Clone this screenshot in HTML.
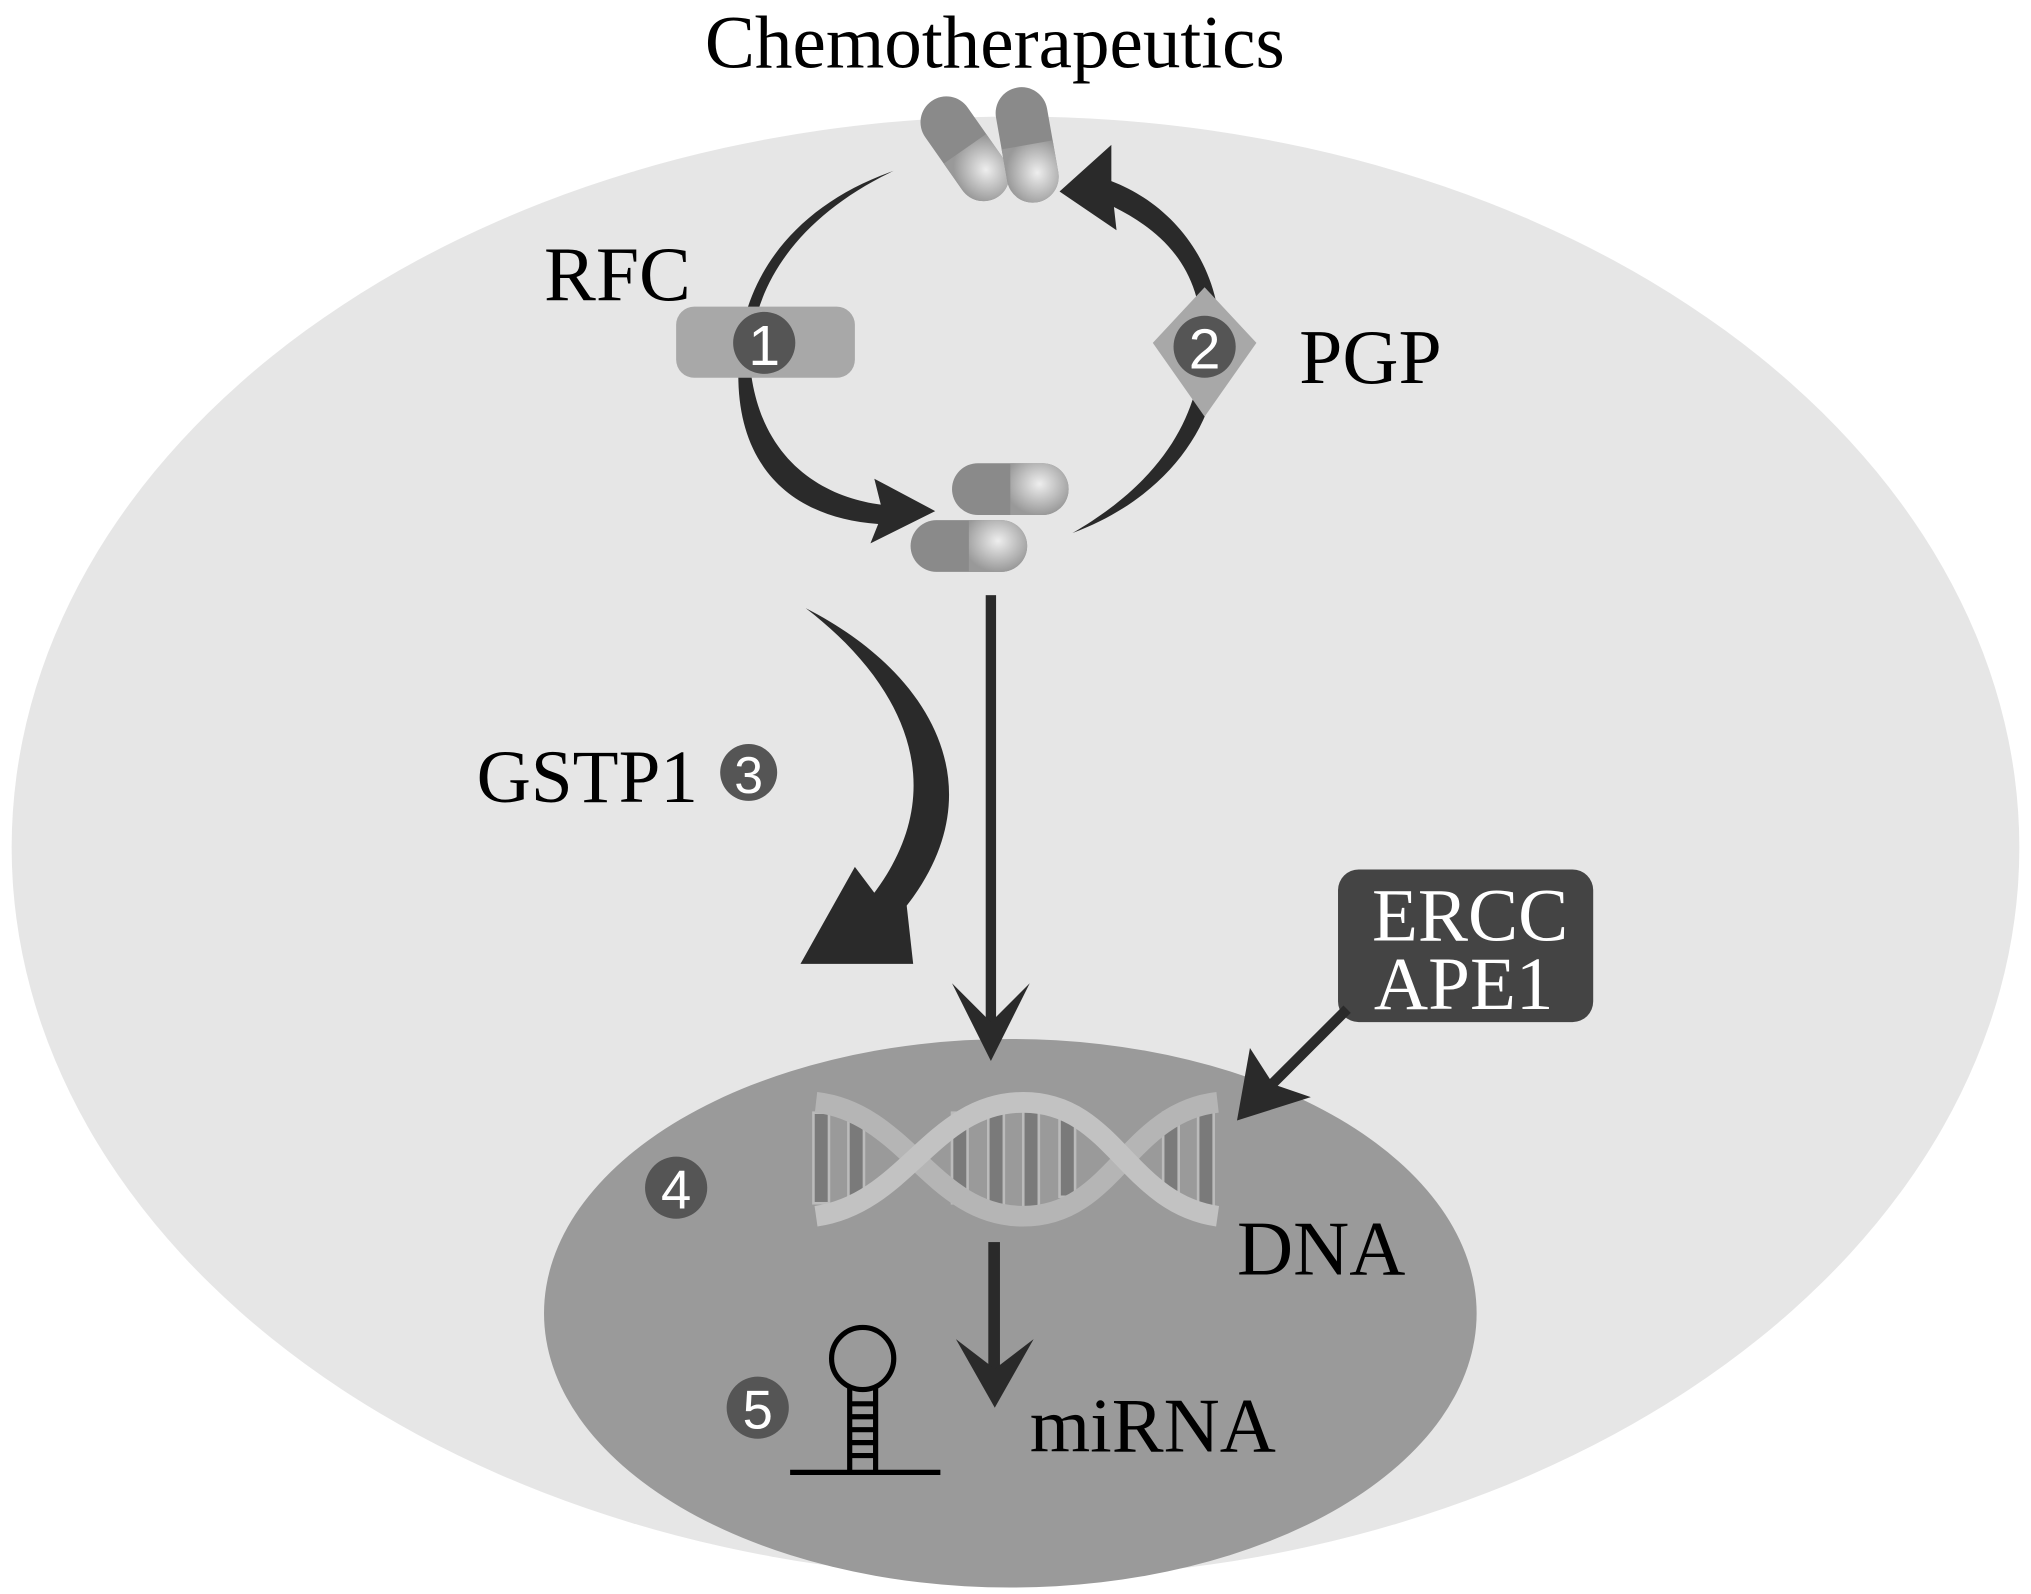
<!DOCTYPE html>
<html><head><meta charset="utf-8"><style>
html,body{margin:0;padding:0;background:#fff;width:2031px;height:1594px;overflow:hidden}
svg{display:block}
text{font-family:"Liberation Serif",serif}
.n{font-family:"Liberation Sans",sans-serif;fill:#fff;text-anchor:middle}
</style></head><body>
<svg width="2031" height="1594" viewBox="0 0 1568 1232" preserveAspectRatio="none" xmlns="http://www.w3.org/2000/svg">
<defs>
<radialGradient id="pl" cx="0.5" cy="0.4" r="0.6"><stop offset="0" stop-color="#eee"/><stop offset="1" stop-color="#999"/></radialGradient>
<g id="pill">
<rect x="-45" y="-20" width="90" height="40" rx="20" fill="#8a8a8a"/>
<path d="M0,-20 H25 A20,20 0 0 1 25,20 H0 Z" fill="url(#pl)"/>
</g>
</defs>
<rect width="1568" height="1232" fill="#fff"/>
<ellipse cx="784" cy="655" rx="775" ry="565" fill="#e6e6e6"/>
<ellipse cx="780" cy="1015" rx="360" ry="212" fill="#9a9a9a"/>
<text x="768" y="52" font-size="58" text-anchor="middle">Chemotherapeutics</text>

<!-- pills -->
<use href="#pill" transform="translate(745,115) rotate(55)"/>
<use href="#pill" transform="translate(793,112) rotate(80)"/>
<use href="#pill" transform="translate(780,378) rotate(0)"/>
<use href="#pill" transform="translate(748,422) rotate(0)"/>

<!-- left loop arrow -->
<path d="M690,132 C610,170 575,230 580,290 C590,360 640,385 680,390 L675,370 L722,395 L672,420 L678,405 C610,400 570,360 570,290 C568,220 610,160 690,132Z" fill="#2a2a2a"/>
<!-- right loop arrow -->
<path d="M828,412 C900,370 925,320 928,270 C930,210 900,180 860,160 L862,178 L818,148 L858,112 L858,140 C910,160 945,210 942,270 C940,330 900,385 828,412Z" fill="#2a2a2a"/>

<rect x="522" y="237" width="138" height="55" rx="14" fill="#a8a8a8"/>
<circle cx="590" cy="265" r="24" fill="#555"/>
<text x="590" y="282" font-size="44" class="n">1</text>
<text x="420" y="232" font-size="60">RFC</text>

<polygon points="930,222 970,265 930,322 890,265" fill="#a8a8a8"/>
<circle cx="930" cy="268" r="24" fill="#555"/>
<text x="930" y="285" font-size="44" class="n">2</text>
<text x="1003" y="296" font-size="60">PGP</text>

<!-- vertical arrow -->
<rect x="761" y="460" width="8" height="340" fill="#2a2a2a"/>
<path d="M765,820 L735,760 L765,790 L795,760 Z" fill="#2a2a2a"/>

<!-- GSTP1 arrow -->
<path d="M622,470 C720,520 770,610 700,700 L705,745 L618,745 L660,670 L675,690 C735,610 700,530 622,470Z" fill="#2a2a2a"/>
<text x="368" y="620" font-size="58">GSTP1</text>
<circle cx="578" cy="597" r="22" fill="#555"/>
<text x="578" y="613" font-size="40" class="n">3</text>

<!-- ERCC box -->
<rect x="1033" y="672" width="197" height="118" rx="16" fill="#444"/>
<text x="1135" y="727" font-size="58" fill="#fff" text-anchor="middle">ERCC</text>
<text x="1130" y="780" font-size="58" fill="#fff" text-anchor="middle">APE1</text>
<line x1="1040" y1="780" x2="980" y2="840" stroke="#2a2a2a" stroke-width="8"/>
<path d="M955,866 L965,810 L983,838 L1012,848 Z" fill="#2a2a2a"/>

<!-- DNA -->
<g fill="#7a7a7a" stroke="#bbb" stroke-width="2">
<rect x="628" y="860" width="12" height="70"/><rect x="655" y="865" width="12" height="60"/>
<rect x="735" y="860" width="12" height="70"/><rect x="763" y="852" width="12" height="86"/>
<rect x="790" y="855" width="12" height="80"/><rect x="818" y="865" width="12" height="60"/>
<rect x="898" y="860" width="12" height="70"/><rect x="925" y="855" width="12" height="80"/>
</g>
<path d="M630,852 C700,860 720,940 790,940 C860,940 870,860 940,852" fill="none" stroke="#b5b5b5" stroke-width="16"/>
<path d="M630,940 C700,930 720,852 790,852 C860,852 870,930 940,940" fill="none" stroke="#c2c2c2" stroke-width="16"/>
<circle cx="522" cy="918" r="24" fill="#555"/>
<text x="522" y="934" font-size="42" class="n">4</text>
<text x="955" y="985" font-size="60">DNA</text>

<!-- DNA->miRNA arrow -->
<rect x="763" y="960" width="9" height="100" fill="#2a2a2a"/>
<path d="M768,1088 L738,1035 L768,1058 L798,1035 Z" fill="#2a2a2a"/>

<!-- hairpin -->
<circle cx="585" cy="1088" r="24" fill="#555"/>
<text x="585" y="1104" font-size="42" class="n">5</text>
<g fill="none" stroke="#000" stroke-width="4">
<circle cx="666" cy="1050" r="24"/>
<line x1="656" y1="1072" x2="656" y2="1138"/><line x1="676" y1="1072" x2="676" y2="1138"/>
<line x1="610" y1="1138" x2="726" y2="1138"/>
<line x1="656" y1="1085" x2="676" y2="1085"/><line x1="656" y1="1095" x2="676" y2="1095"/>
<line x1="656" y1="1105" x2="676" y2="1105"/><line x1="656" y1="1115" x2="676" y2="1115"/>
<line x1="656" y1="1125" x2="676" y2="1125"/>
</g>
<text x="795" y="1122" font-size="60">miRNA</text>
</svg>
</body></html>
